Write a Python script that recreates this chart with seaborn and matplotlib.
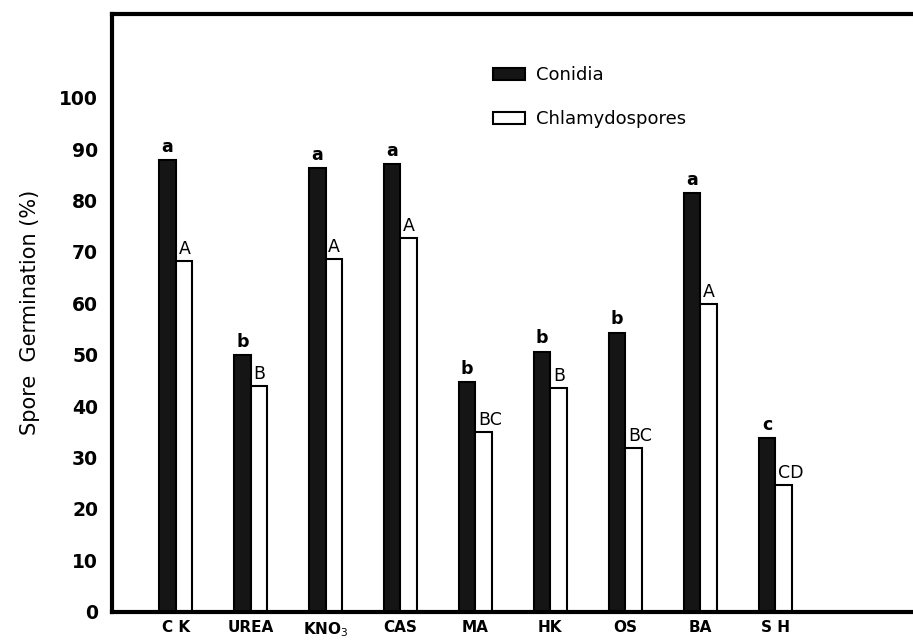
import pandas as pd
import numpy as np
import matplotlib.pyplot as plt
import seaborn as sns

# =============================================================================
# DATA
# =============================================================================

CATEGORIES = ['C K', 'UREA', 'KNO$_3$', 'CAS', 'MA', 'HK', 'OS', 'BA', 'S H']
CONIDIA = [87.8, 50.0, 86.3, 87.1, 44.7, 50.6, 54.3, 81.5, 33.8]
CHLAMYDOSPORES = [68.2, 44.0, 68.6, 72.8, 35.0, 43.6, 31.9, 59.9, 24.6]
LETTERS_CONIDIA = ['a', 'b', 'a', 'a', 'b', 'b', 'b', 'a', 'c']
LETTERS_CHLAMY = ['A', 'B', 'A', 'A', 'BC', 'B', 'BC', 'A', 'CD']
SERIES = ['Conidia', 'Chlamydospores']
Y_TICKS = list(range(0, 101, 10))

PALETTE = {'Conidia': '#151515', 'Chlamydospores': 'white'}

# =============================================================================
# PLOT
# =============================================================================

df = pd.DataFrame({
    'Treatment': CATEGORIES * 2,
    'Spore': ['Conidia'] * len(CATEGORIES) + ['Chlamydospores'] * len(CATEGORIES),
    'Germination': CONIDIA + CHLAMYDOSPORES,
})

sns.set_theme(style="white")
plt.rcParams['font.family'] = ['DejaVu Sans']
plt.rcParams['text.color'] = 'black'
plt.rcParams['axes.labelcolor'] = 'black'
plt.rcParams['xtick.color'] = 'black'
plt.rcParams['ytick.color'] = 'black'

fig = plt.figure(figsize=(9.13, 6.41), dpi=100)
ax = fig.add_axes([0.1227, 0.0457, 0.8773, 0.9325])

sns.barplot(
    data=df, x='Treatment', y='Germination', hue='Spore',
    hue_order=SERIES, order=CATEGORIES, palette=PALETTE,
    width=0.44, edgecolor='black', linewidth=1.5, legend=False, ax=ax,
    saturation=1,
)

# significance letters
cont_con, cont_chl = ax.containers[0], ax.containers[1]
for bar, lab in zip(cont_con, LETTERS_CONIDIA):
    ax.annotate(lab, (bar.get_x() + bar.get_width() / 2, bar.get_height()),
                xytext=(0, 3), textcoords='offset points',
                ha='center', va='bottom', fontsize=12.5, fontweight='bold')
for bar, lab in zip(cont_chl, LETTERS_CHLAMY):
    ax.annotate(lab, (bar.get_x(), bar.get_height()),
                xytext=(2, 2), textcoords='offset points',
                ha='left', va='bottom', fontsize=12.5)

ax.set_xlim(-0.85, 9.84)
ax.set_ylim(0, 116.3)
ax.set_yticks(Y_TICKS)
ax.set_yticklabels([str(t) for t in Y_TICKS], fontsize=13.5, fontweight='bold')
ax.set_xticks(range(len(CATEGORIES)))
ax.set_xticklabels(CATEGORIES, fontsize=11, fontweight='bold')
ax.tick_params(axis='y', direction='in', length=8, width=2, pad=10)
ax.tick_params(axis='x', length=0, pad=6)
ax.set_xlabel('')
ax.set_ylabel('Spore  Germination (%)', fontsize=15, labelpad=14)

for side in ['left', 'top', 'bottom']:
    ax.spines[side].set_linewidth(3)
    ax.spines[side].set_color('black')
ax.spines['right'].set_visible(False)

ax.legend(handles=[cont_con, cont_chl], labels=SERIES, loc='upper left',
          bbox_to_anchor=(0.455, 0.94), frameon=False, fontsize=13,
          handlelength=1.8, handleheight=0.65, labelspacing=1.45,
          handletextpad=0.6)

fig.savefig('out.png', dpi=100)
plt.close(fig)
